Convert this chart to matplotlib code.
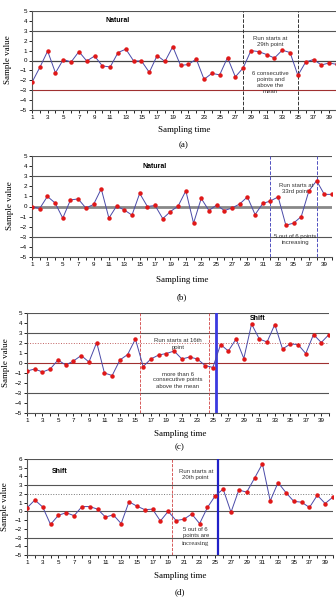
# Control charts: natural and shifted process samples

import numpy as np
import matplotlib.pyplot as plt

t = np.arange(1, 41)

vals_a = [-2.2, -0.7, 0.95, -1.25, 0.1, -0.15, 0.9, -0.05, 0.45, -0.55,
          -0.65, 0.8, 1.15, -0.05, -0.05, -1.2, 0.5, -0.1, 1.4, -0.5,
          -0.4, 0.15, -1.9, -1.3, -1.45, 0.3, -1.65, -0.75, 1.0, 0.9,
          0.6, 0.25, 1.05, 0.8, -1.5, -0.15, 0.1, -0.45, -0.25, -0.4]
vals_b = [0.0, -0.2, 1.0, 0.35, -1.15, 0.65, 0.75, -0.15, 0.2, 1.75,
          -1.15, 0.05, -0.35, -0.85, 1.3, 0.0, 0.1, -1.2, -0.5, 0.05,
          1.55, -1.65, 0.8, -0.4, 0.15, -0.4, -0.15, 0.25, 0.95, -0.8,
          0.3, 0.55, 0.95, -1.85, -1.65, -1.0, 1.55, 2.55, 1.2, 1.2]
vals_c = [-0.8, -0.6, -0.9, -0.6, 0.3, -0.2, 0.2, 0.75, 0.1, 2.05,
          -1.0, -1.25, 0.3, 0.85, 2.4, -0.35, 0.4, 0.8, 0.95, 1.2,
          0.4, 0.6, 0.4, -0.25, -0.45, 1.85, 1.2, 2.4, 0.45, 3.9,
          2.4, 2.1, 3.85, 1.4, 1.9, 1.85, 0.95, 2.85, 2.05, 2.85]
vals_d = [0.4, 1.3, 0.5, -1.5, -0.45, -0.15, -0.5, 0.55, 0.55, 0.25,
          -0.65, -0.4, -1.4, 1.1, 0.6, 0.2, 0.25, -1.1, 0.0, -1.05,
          -0.9, -0.3, -1.4, 0.45, 1.8, 2.55, -0.1, 2.45, 2.2, 3.8,
          5.45, 1.2, 3.3, 2.15, 1.15, 1.05, 0.45, 1.85, 0.9, 1.65]

W, H = 336, 597
fig = plt.figure(figsize=(W / 100, H / 100), dpi=100)

def rect(l, r, top, bot):
    return [l / W, 1 - bot / H, (r - l) / W, (bot - top) / H]

line_col = '#4a4aa8'
mark_col = '#e01818'
grid_col = '#555555'
sans = 'Liberation Sans'
serif = 'Liberation Serif'


def base(ax, y, ymax, zero_col, zero_lw, low_col):
    ax.set_xlim(1, 40)
    ax.set_ylim(-5, ymax)
    for v in [3, ymax]:
        ax.axhline(v, color=grid_col, lw=0.8, zorder=1)
    ax.axhline(-3, color=low_col, lw=0.8, zorder=1)
    ax.axhline(0, color=zero_col, lw=zero_lw, zorder=1)
    ax.plot(t, y, color=line_col, lw=0.7, zorder=3)
    ax.plot(t, y, 'o', color=mark_col, ms=2.2, zorder=4)
    ax.set_xticks(t)
    ax.set_xticklabels([str(i) if i % 2 else '' for i in t])
    ax.set_yticks(range(-5, ymax + 1))
    ax.tick_params(labelsize=4.5, length=2, width=0.6, pad=1.5)
    for s in ['top', 'right']:
        ax.spines[s].set_visible(False)
    for s in ['left', 'bottom']:
        ax.spines[s].set_color(grid_col)
        ax.spines[s].set_linewidth(0.8)
    for lab in ax.get_xticklabels() + ax.get_yticklabels():
        lab.set_family(sans)


def small(ax, x, y, s, **kw):
    ax.text(x, y, s, fontsize=4.3, family=sans, ha='center', va='center',
            color='#333333', linespacing=1.25, **kw)


# (a)
ax = fig.add_axes(rect(32, 337, 11, 110))
base(ax, vals_a, 5, '#444444', 0.9, '#a03030')
ax.axvline(28, color='#333333', ls='--', lw=0.7)
ax.axvline(35, color='#333333', ls='--', lw=0.7)
ax.text(12, 4.0, 'Natural', fontsize=5, fontweight='bold', family=sans,
        ha='center', va='center')
small(ax, 31.5, 1.9, 'Run starts at\n29th point')
small(ax, 31.5, -2.2, '6 consecutive\npoints and\nabove the\nmean')

# (b)
ax = fig.add_axes(rect(32, 332, 156, 257))
base(ax, vals_b, 5, '#888888', 2.0, grid_col)
ax.axvline(32, color='#5050c0', ls='--', lw=0.7)
ax.axvline(38, color='#5050c0', ls='--', lw=0.7)
ax.text(17, 4.0, 'Natural', fontsize=5, fontweight='bold', family=sans,
        ha='center', va='center')
small(ax, 35.3, 1.8, 'Run starts at\n33rd point')
small(ax, 35.2, -3.3, '5 out of 6 points\nincreasing')

# (c)
ax = fig.add_axes(rect(27, 329, 313, 413))
base(ax, vals_c, 5, '#a03030', 0.8, grid_col)
ax.axhline(2, color='#c06060', ls=':', lw=0.7, zorder=1)
ax.axvline(15.6, color='#d04040', ls='--', lw=0.6)
ax.axvline(24.5, color='#d04040', ls='--', lw=0.6)
ax.axvline(25.4, color='#3a3ae0', lw=2.0)
ax.text(30.8, 4.5, 'Shift', fontsize=5, fontweight='bold', family=sans,
        ha='center', va='center')
small(ax, 20.5, 1.9, 'Run starts at 16th\npoint')
small(ax, 20.5, -1.7, 'more than 6\nconsecutive points\nabove the mean')

# (d)
ax = fig.add_axes(rect(27, 333, 459, 555))
base(ax, vals_d, 6, grid_col, 0.8, grid_col)
ax.axhline(2, color='#777777', ls=':', lw=0.7, zorder=1)
ax.axvline(19.5, color='#d04040', ls='--', lw=0.6)
ax.axvline(25.3, color='#2020c8', lw=1.6)
ax.text(5.2, 4.6, 'Shift', fontsize=5, fontweight='bold', family=sans,
        ha='center', va='center')
small(ax, 22.5, 4.2, 'Run starts at\n20th point')
small(ax, 22.5, -2.4, '5 out of 6\npoints are')
ax.text(22.5, -3.7, 'increasing', fontsize=4.8, family=serif,
        ha='center', va='center', color='#333333')

# axis titles and captions
ylab = [(8, 60), (10, 206), (6, 363), (5, 507)]
xlab = [(184, 130, '(a)', 145), (182, 280, '(b)', 297),
        (180, 434, '(c)', 447), (180, 576, '(d)', 592)]
for x, y in ylab:
    fig.text(x / W, 1 - y / H, 'Sample value', rotation=90, fontsize=6.5,
             family=serif, ha='center', va='center')
for x, y, cap, yc in xlab:
    fig.text(x / W, 1 - y / H, 'Sampling time', fontsize=6.5,
             family=serif, ha='center', va='center')
    fig.text(x / W, 1 - yc / H, cap, fontsize=6.5,
             family=serif, ha='center', va='center')

fig.savefig('out.png', dpi=100)
